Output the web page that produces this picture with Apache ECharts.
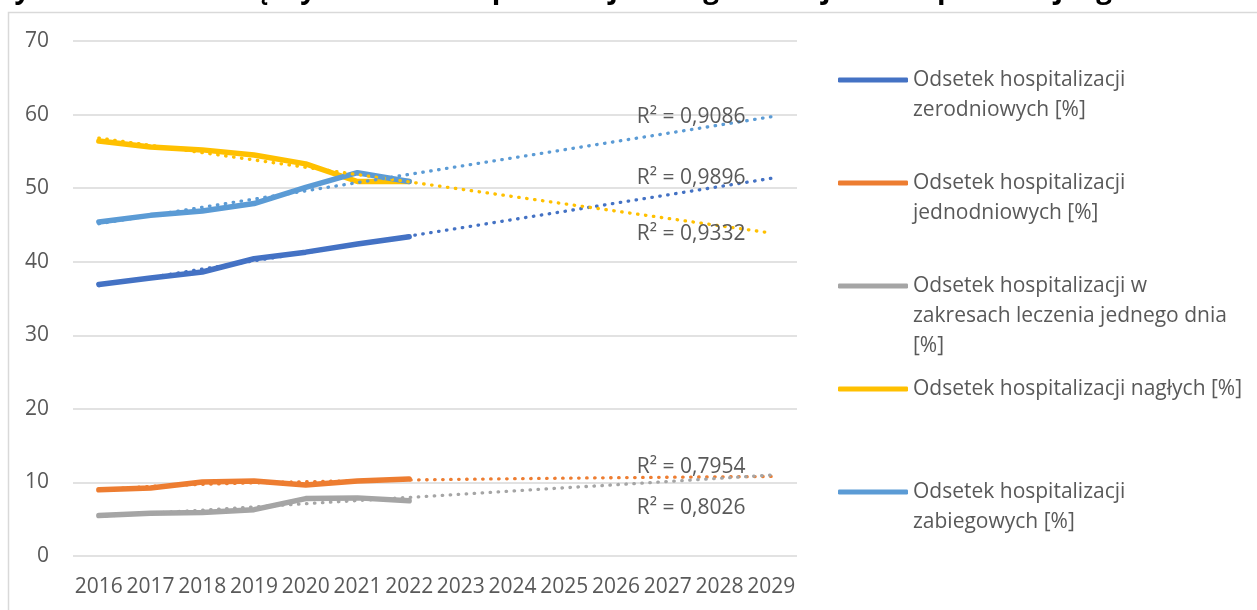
<!DOCTYPE html>
<html>
<head>
<meta charset="utf-8">
<script src="https://cdn.jsdelivr.net/npm/echarts@6/dist/echarts.min.js"></script>
<style>
  html, body { margin: 0; padding: 0; background: #ffffff; }
  #chart { width: 1257px; height: 610px; }
</style>
</head>
<body>
<div id="chart"></div>
<script>
// Years on the category axis (observed 2016–2022, trend projected to 2029)
const years = ['2016', '2017', '2018', '2019', '2020', '2021', '2022',
               '2023', '2024', '2025', '2026', '2027', '2028', '2029'];

// Observed shares [%], 2016–2022
const zerodniowe  = [36.9, 37.8, 38.6, 40.4, 41.3, 42.4, 43.4];
const jednodniowe = [9.0, 9.25, 10.05, 10.2, 9.65, 10.2, 10.45];
const jednegoDnia = [5.5, 5.8, 5.9, 6.3, 7.8, 7.9, 7.5];
const nagle       = [56.4, 55.6, 55.2, 54.5, 53.3, 50.9, 50.9];
const zabiegowe   = [45.4, 46.3, 46.9, 47.9, 50.1, 52.1, 50.9];

const seriesNames = [
  'Odsetek hospitalizacji zerodniowych [%]',
  'Odsetek hospitalizacji jednodniowych [%]',
  'Odsetek hospitalizacji w zakresach leczenia jednego dnia [%]',
  'Odsetek hospitalizacji nagłych [%]',
  'Odsetek hospitalizacji zabiegowych [%]'
];
const legendLines = [
  ['Odsetek hospitalizacji', 'zerodniowych [%]'],
  ['Odsetek hospitalizacji', 'jednodniowych [%]'],
  ['Odsetek hospitalizacji w', 'zakresach leczenia jednego dnia', '[%]'],
  ['Odsetek hospitalizacji nagłych [%]'],
  ['Odsetek hospitalizacji', 'zabiegowych [%]']
];
// Trendline type per series and its coefficient of determination
const trendTypes = ['linear', 'log', 'linear', 'linear', 'linear'];
const r2Texts = ['R² = 0,9896', 'R² = 0,7954', 'R² = 0,8026', 'R² = 0,9332', 'R² = 0,9086'];

const seriesData = [zerodniowe, jednodniowe, jednegoDnia, nagle, zabiegowe];
const colors = ['#4472C4', '#ED7D31', '#A5A5A5', '#FFC000', '#5B9BD5'];

// Least-squares trendline over the observed years, evaluated on every category
function trendline(values, type, count) {
  const tx = i => (type === 'log' ? Math.log(i + 1) : i);
  const n = values.length;
  let sx = 0, sy = 0;
  values.forEach((v, i) => { sx += tx(i); sy += v; });
  const mx = sx / n, my = sy / n;
  let sxy = 0, sxx = 0;
  values.forEach((v, i) => { sxy += (tx(i) - mx) * (v - my); sxx += (tx(i) - mx) * (tx(i) - mx); });
  const b = sxy / sxx, a = my - b * mx;
  const out = [];
  for (let i = 0; i < count; i++) out.push(+(a + b * tx(i)).toFixed(3));
  return out;
}

const textColor = '#595959';
const fontFamily = '"Open Sans", "Noto Sans", sans-serif';
const fontSize = 21;

// Pixel nudges of the R² labels relative to the end of each trendline
const r2Offsets = [[-80, 0], [-80, -9], [-80, 33], [-80, 1], [-80, 0]];

const lineSeries = seriesData.map((d, k) => ({
  name: seriesNames[k],
  type: 'line',
  data: d,
  symbol: 'none',
  z: 2,
  lineStyle: { color: colors[k], width: 5.5, cap: 'round', join: 'round' },
  itemStyle: { color: colors[k] }
}));

const trendSeries = seriesData.map((d, k) => {
  const t = trendline(d, trendTypes[k], years.length);
  return {
    name: 'trend ' + k,
    type: 'line',
    data: t,
    symbol: 'none',
    z: 3,
    lineStyle: { color: colors[k], width: 3.3, type: [0.5, 7.5], cap: 'round' },
    markPoint: {
      symbol: 'circle',
      symbolSize: 0,
      silent: true,
      data: [{ coord: [years.length - 1, t[t.length - 1]] }],
      label: {
        show: true,
        position: 'inside',
        offset: r2Offsets[k],
        formatter: r2Texts[k],
        color: textColor,
        fontFamily: fontFamily,
        fontSize: fontSize
      }
    }
  };
});

// One legend per entry, icon aligned with the first text line
const legendIconY = [80, 183, 286, 389, 492];
const legendLH = 30;
const legends = seriesNames.map((name, k) => {
  const lines = legendLines[k];
  const padded = new Array(lines.length - 1).fill('').concat(lines).join('\n');
  const h = (2 * lines.length - 1) * legendLH;
  return {
    orient: 'vertical',
    left: 838,
    top: legendIconY[k] - h / 2,
    padding: 0,
    itemWidth: 70,
    itemHeight: 5,
    itemGap: 0,
    icon: 'roundRect',
    selectedMode: false,
    data: [{ name: name, itemStyle: { color: colors[k] } }],
    formatter: () => padded,
    textStyle: { color: textColor, fontFamily: fontFamily, fontSize: fontSize, lineHeight: legendLH }
  };
});

const chart = echarts.init(document.getElementById('chart'), null, { renderer: 'canvas' });
chart.setOption({
  animation: false,
  backgroundColor: '#ffffff',
  title: {
    text: 'Rysunek 24. Przeciętny odsetek hospitalizacji danego rodzaju w hospitalizacji ogółem',
    left: -4,
    top: -24,
    padding: 0,
    textStyle: { color: '#000000', fontFamily: fontFamily, fontSize: 28, fontWeight: 'bold' }
  },
  graphic: [{
    type: 'rect',
    silent: true,
    z: -10,
    shape: { x: 8.5, y: 12.5, width: 1400, height: 800 },
    style: { fill: 'none', stroke: '#D9D9D9', lineWidth: 1.5 }
  }],
  grid: { left: 73, right: 460, top: 41, bottom: 54, containLabel: false },
  legend: legends,
  xAxis: {
    type: 'category',
    data: years,
    boundaryGap: true,
    axisLine: { show: false },
    axisTick: { show: false },
    axisLabel: { interval: 0, margin: 21, color: textColor, fontFamily: fontFamily, fontSize: fontSize }
  },
  yAxis: {
    type: 'value',
    min: 0,
    max: 70,
    interval: 10,
    axisLine: { show: false },
    axisTick: { show: false },
    splitLine: { lineStyle: { color: '#D9D9D9', width: 1.5 } },
    axisLabel: { margin: 24, color: textColor, fontFamily: fontFamily, fontSize: fontSize }
  },
  series: lineSeries.concat(trendSeries)
});
</script>
</body>
</html>
